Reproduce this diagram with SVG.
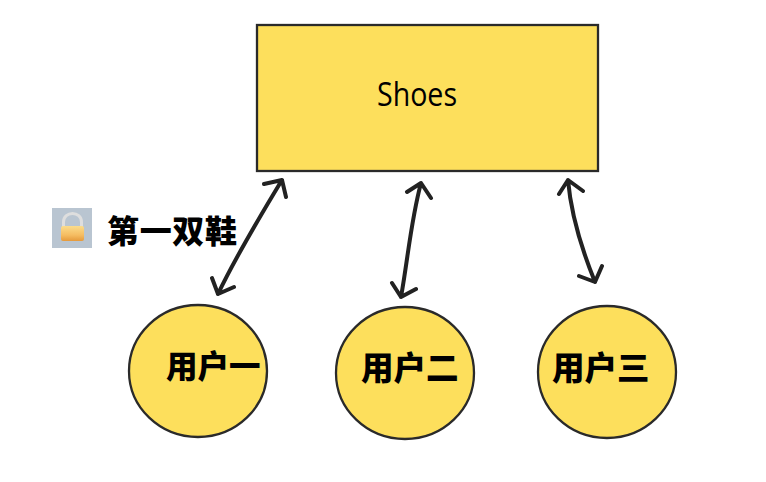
<svg xmlns="http://www.w3.org/2000/svg" width="766" height="482" viewBox="0 0 766 482">
<defs>
<linearGradient id="lockBody" x1="0" y1="0" x2="0" y2="1"><stop offset="0" stop-color="#fbdc8c"/><stop offset="0.6" stop-color="#f5bd62"/><stop offset="1" stop-color="#e59a3c"/></linearGradient>
</defs>
<style>
.box{fill:#fddf5c;stroke:#2a2a2a;stroke-width:2.300}
.lbl{font-family:"Noto Sans CJK SC","Liberation Sans",sans-serif;font-weight:900;fill:#000}
.sh{font-family:"Open Sans","Liberation Sans",sans-serif;font-weight:400;font-size:32px;fill:#000}
.arr{fill:none;stroke:#222;stroke-width:4;stroke-linecap:round;stroke-linejoin:round}
</style>
<rect width="766" height="482" fill="#fff"/>
<g id="connectors">
<path class="arr" d="M282 180C262 213 236 256 218 294M264 184L282 180L286 197M212 278L218 294L234 287"/>
<path class="arr" d="M421 183C411 220 408 258 401 297M407 192L421 183L431 198M392 283L401 297L416 289"/>
<path class="arr" d="M568 180C571 215 582 250 595 282M559 194L568 180L583 191M579 276L595 282L602 266"/>
</g>
<g id="shoes"><rect class="box" x="257" y="25" width="341" height="146"/><text class="sh" x="377" y="106" textLength="80" lengthAdjust="spacingAndGlyphs">Shoes</text></g>
<g id="lock-note">
<rect x="52" y="208" width="40" height="40" fill="#b9c5d1"/>
<path d="M63.500 227V222C63.500 210.500 81.500 210.500 81.500 222V227" fill="none" stroke="#dedede" stroke-width="3"/>
<rect x="61" y="226" width="23" height="15" rx="2" fill="url(#lockBody)"/>
<text class="lbl" x="107" y="243" font-size="32" textLength="130">第一双鞋</text>
</g>
<g id="user1"><ellipse class="box" cx="198" cy="371" rx="69" ry="66"/><text class="lbl" x="166" y="378" font-size="31.500">用户一</text></g>
<g id="user2"><ellipse class="box" cx="405" cy="373" rx="69" ry="66"/><text class="lbl" x="361" y="380" font-size="32.500">用户二</text></g>
<g id="user3"><ellipse class="box" cx="607" cy="372" rx="69" ry="66"/><text class="lbl" x="552" y="380" font-size="32.500">用户三</text></g>
</svg>
